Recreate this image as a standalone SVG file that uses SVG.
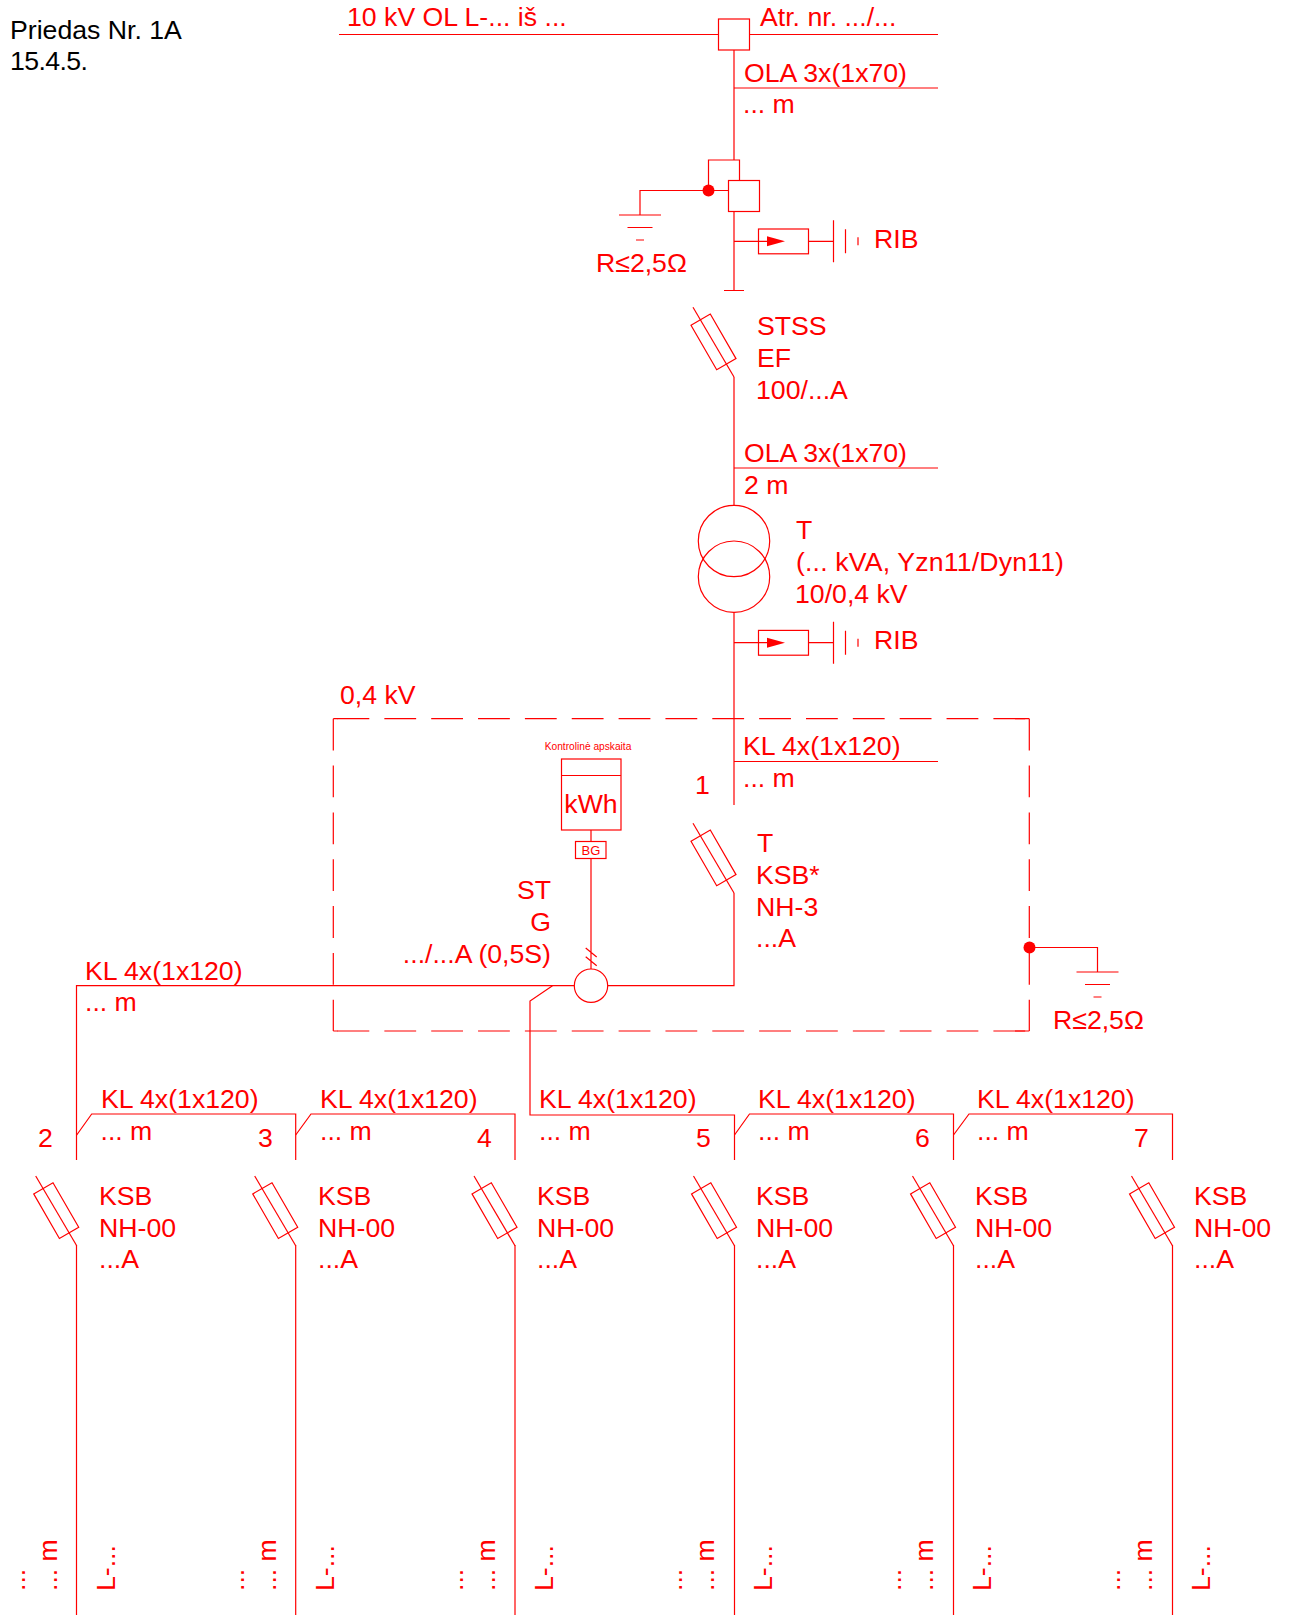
<svg xmlns="http://www.w3.org/2000/svg" width="1289" height="1615" viewBox="0 0 1289 1615">
<style>
text{font-family:"Liberation Sans",Arial,sans-serif;font-size:26.67px;fill:#f00}
.b{fill:#000}
.e{text-anchor:end}
.m{text-anchor:middle}
.l,.l *{fill:none;stroke:#f00;stroke-width:1.2}
.w{fill:#fff;stroke:#f00;stroke-width:1.2}
.d{fill:#f00;stroke:none}
.da{stroke-dasharray:31.8 15.05}
</style>
<defs>
<g id="fuse" class="l"><path d="M-41 -69.7L0 0"/><path d="M-43 -51.800L-23.700 -63L2 -18.400L-17.300 -7.200Z"/></g>
<g id="rib"><g class="l"><path d="M0 0H33M74.500 0H99.500M99.500 -21V21M111.500 -12V12M124 -4V4"/><rect x="24.500" y="-12.300" width="50" height="24.800"/></g><path class="d" d="M33 -5L51 0L33 5Z"/></g>
<g id="gnd" class="l"><path d="M-21 0H21M-12.500 12.500H12.500M-4 25H4"/></g>
</defs>
<rect width="1289" height="1615" fill="#fff"/>
<g id="connectors" class="l">
<path d="M339 34.500H718.500M749.500 34.500H938"/>
<path d="M734 50V160M734 88H938M734 211V290.500M724 290.500H744"/>
<path d="M708.500 190.500V160H739.500V180.500M728.500 190.500H640V215"/>
<path d="M734 377V505.500M734 468H938M734 612.500V805M734 761.500H938"/>
<path d="M734 893V985.700H76.500V1160"/>
<path d="M591 830V970M585.700 948L596.700 957M585.700 956.700L596.700 965.700"/>
<path d="M552.500 985.700L530 1001V1115H734.500V1160"/>
<path d="M76.700 1135L91.700 1114H295.700V1160"/>
<path d="M295.700 1135L311 1114H515V1160"/>
<path d="M734.500 1135L749.500 1114H953.500V1160"/>
<path d="M953.500 1135L969 1114H1172.500V1160"/>
<path d="M1029.500 947.500H1097.500V972"/>
<path class="da" d="M337.500 718.700H1029.300M337.500 1031H1029.300M333.300 718.700V1031M1029.300 718.700V1031"/>
<path d="M333.300 718.700H338M333.300 1031H338M1015 718.700H1029.300M1015 1031H1029.300"/>
<path d="M76.500 1245V1615M295.700 1245V1615M515 1245V1615M734.500 1245V1615M953.500 1245V1615M1172.500 1245V1615"/>
</g>
<g id="note"><text class="b" x="10" y="39">Priedas Nr. 1A</text><text class="b" x="10" y="70" textLength="78">15.4.5.</text></g>
<g id="line-10kv"><text x="347" y="26">10 kV OL L-... iš ...</text><text x="760" y="26">Atr. nr. .../...</text></g>
<g id="pole-switch"><rect class="w" x="718.500" y="19" width="31" height="31"/></g>
<g id="cable-ola-1"><text x="744" y="82">OLA 3x(1x70)</text><text x="743" y="113">... m</text></g>
<g id="disconnector"><rect class="w" x="728.500" y="180.500" width="31" height="31"/><circle class="d" cx="708.500" cy="190.500" r="6"/></g>
<g id="earth-1"><use href="#gnd" x="640" y="215"/><text x="596" y="272">R≤2,5Ω</text></g>
<g id="rib-1"><use href="#rib" x="734" y="241.300"/><text x="874" y="248">RIB</text></g>
<g id="fuse-stss"><use href="#fuse" x="734" y="377"/><text x="757" y="335">STSS</text><text x="757" y="367">EF</text><text x="756" y="399">100/...A</text></g>
<g id="cable-ola-2"><text x="744" y="462">OLA 3x(1x70)</text><text x="744" y="494">2 m</text></g>
<g id="transformer"><g class="l"><circle cx="734" cy="541" r="35.700"/><circle cx="734" cy="576.700" r="35.700"/></g><text x="796" y="539">T</text><text x="796" y="571" textLength="268">(... kVA, Yzn11/Dyn11)</text><text x="795" y="603">10/0,4 kV</text></g>
<g id="rib-2"><use href="#rib" x="734" y="642.700"/><text x="874" y="649">RIB</text></g>
<g id="lv-board"><text x="340" y="704">0,4 kV</text></g>
<g id="cable-1"><text x="743" y="755">KL 4x(1x120)</text><text x="743" y="787">... m</text><text x="695" y="794">1</text></g>
<g id="fuse-main"><use href="#fuse" x="734" y="893"/><text x="757" y="852">T</text><text x="756" y="884">KSB*</text><text x="756" y="916">NH-3</text><text x="756" y="947">...A</text></g>
<g id="meter"><text class="m" x="588" y="750" style="font-size:10.200px">Kontrolinė apskaita</text><rect class="w" x="561.500" y="759" width="59.500" height="71"/><path class="l" d="M561.500 775.500H621"/><text class="m" x="591" y="813">kWh</text><rect class="w" x="575.500" y="841.500" width="30.500" height="17"/><text class="m" x="591" y="855" style="font-size:13px">BG</text></g>
<g id="ct"><circle class="w" cx="591" cy="985.700" r="16.700"/><text class="e" x="551" y="899">ST</text><text class="e" x="551" y="931">G</text><text class="e" x="551" y="963">.../...A (0,5S)</text></g>
<g id="earth-2"><circle class="d" cx="1029.500" cy="947.500" r="6"/><use href="#gnd" x="1097.500" y="972"/><text x="1053" y="1029">R≤2,5Ω</text></g>
<g id="cable-2-top"><text x="85" y="980">KL 4x(1x120)</text><text x="85" y="1011">... m</text></g>
<g id="feeder-2"><use href="#fuse" x="76.700" y="1245.700"/><text x="38" y="1147">2</text><text x="99" y="1205">KSB</text><text x="99" y="1237">NH-00</text><text x="99" y="1268">...A</text><text transform="translate(57 1591) rotate(-90)">... m</text><text transform="translate(25 1591) rotate(-90)">...</text><text transform="translate(115 1591) rotate(-90)">L-...</text><text x="101" y="1108">KL 4x(1x120)</text><text x="100.500" y="1140">... m</text></g>
<g id="feeder-3"><use href="#fuse" x="295.700" y="1245.700"/><text x="258" y="1147">3</text><text x="318" y="1205">KSB</text><text x="318" y="1237">NH-00</text><text x="318" y="1268">...A</text><text transform="translate(276 1591) rotate(-90)">... m</text><text transform="translate(244 1591) rotate(-90)">...</text><text transform="translate(334 1591) rotate(-90)">L-...</text><text x="320" y="1108">KL 4x(1x120)</text><text x="320" y="1140">... m</text></g>
<g id="feeder-4"><use href="#fuse" x="515" y="1245.700"/><text x="477" y="1147">4</text><text x="537" y="1205">KSB</text><text x="537" y="1237">NH-00</text><text x="537" y="1268">...A</text><text transform="translate(495 1591) rotate(-90)">... m</text><text transform="translate(463 1591) rotate(-90)">...</text><text transform="translate(553 1591) rotate(-90)">L-...</text><text x="539" y="1108">KL 4x(1x120)</text><text x="539" y="1140">... m</text></g>
<g id="feeder-5"><use href="#fuse" x="734.500" y="1245.700"/><text x="696" y="1147">5</text><text x="756" y="1205">KSB</text><text x="756" y="1237">NH-00</text><text x="756" y="1268">...A</text><text transform="translate(714 1591) rotate(-90)">... m</text><text transform="translate(682 1591) rotate(-90)">...</text><text transform="translate(772 1591) rotate(-90)">L-...</text><text x="758" y="1108">KL 4x(1x120)</text><text x="758" y="1140">... m</text></g>
<g id="feeder-6"><use href="#fuse" x="953.500" y="1245.700"/><text x="915" y="1147">6</text><text x="975" y="1205">KSB</text><text x="975" y="1237">NH-00</text><text x="975" y="1268">...A</text><text transform="translate(933 1591) rotate(-90)">... m</text><text transform="translate(901 1591) rotate(-90)">...</text><text transform="translate(991 1591) rotate(-90)">L-...</text><text x="977" y="1108">KL 4x(1x120)</text><text x="977" y="1140">... m</text></g>
<g id="feeder-7"><use href="#fuse" x="1172.500" y="1245.700"/><text x="1134" y="1147">7</text><text x="1194" y="1205">KSB</text><text x="1194" y="1237">NH-00</text><text x="1194" y="1268">...A</text><text transform="translate(1152 1591) rotate(-90)">... m</text><text transform="translate(1120 1591) rotate(-90)">...</text><text transform="translate(1210 1591) rotate(-90)">L-...</text></g>
</svg>
